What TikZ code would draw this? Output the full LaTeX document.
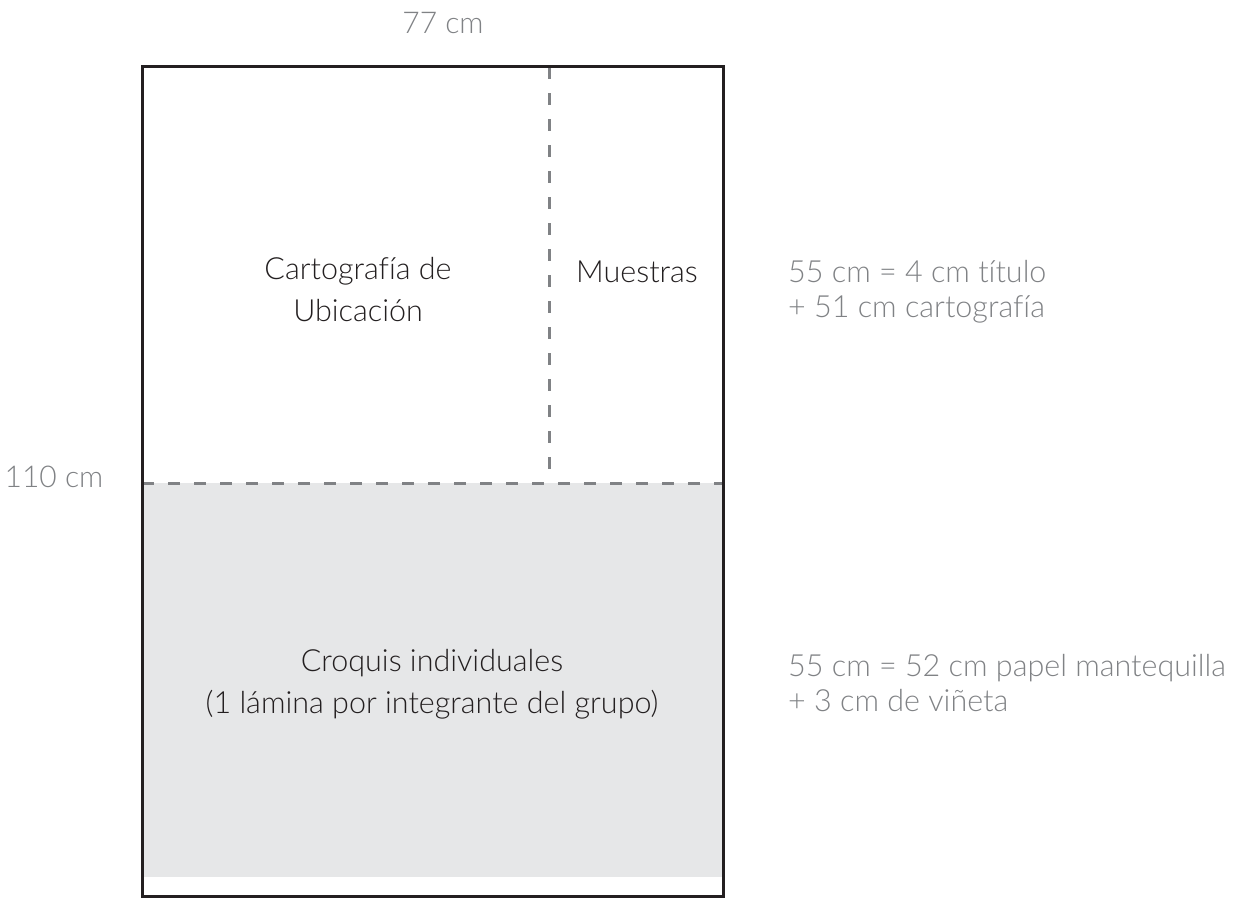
\documentclass[tikz,border=0pt]{standalone}
\usepackage{fontspec}
\setmainfont{Lato Light}[Ligatures=CommonOff]
\definecolor{framec}{HTML}{231F20}
\definecolor{dashc}{HTML}{808285}
\definecolor{fillc}{HTML}{E6E7E8}
\definecolor{labc}{HTML}{808285}
\definecolor{txtc}{HTML}{231F20}
\tikzset{
  dim/.style={text=labc, font=\fontsize{30}{36}\selectfont, inner sep=0pt},
  inlab/.style={text=txtc, font=\fontsize{30.5}{42}\selectfont, inner sep=0pt, align=center},
  sidelab/.style={text=labc, font=\fontsize{30.5}{35}\selectfont, inner sep=0pt, align=left, anchor=west},
  divider/.style={dashc, line width=3pt, dash pattern=on 12pt off 14pt},
}
\begin{document}
\begin{tikzpicture}[x=1pt,y=-1pt]
\useasboundingbox (0,0) rectangle (1242,898);
\fill[fillc] (143,483) rectangle (722,877);
\coordinate (hl) at (142,483);
\coordinate (hr) at (723,483);
\coordinate (vt) at (549,67);
\coordinate (vb) at (549,483);
\draw[divider] (hl) -- (hr);
\draw[divider] (vt) -- (vb);
\draw[framec, line width=3pt] (142,66) rectangle (723,896.5);
\node[dim] (w) at (443,23) {77 cm};
\node[dim] (h) at (54,477) {110 cm};
\node[inlab] (carto) at (358,290) {Cartografía de\\Ubicación};
\node[inlab] (muestras) at (637,272) {Muestras};
\node[inlab] (croquis) at (432,684) {Croquis individuales\\(1 lámina por integrante del grupo)};
\node[sidelab] (top) at (788,292) {55 cm = 4 cm título\\+ 51 cm cartografía};
\node[sidelab] (bot) at (788,683) {55 cm = 52 cm papel mantequilla\\+ 3 cm de viñeta};
\end{tikzpicture}
\end{document}
